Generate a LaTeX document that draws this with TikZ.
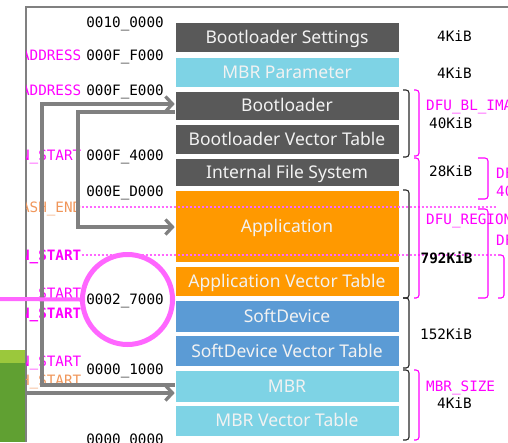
\documentclass[tikz,border=0pt]{standalone}
\usepackage{fontspec}
\setmainfont{Noto Sans}
\newfontfamily\monofont{DejaVu Sans Mono}
\usetikzlibrary{arrows.meta}
\definecolor{dgray}{RGB}{89,89,89}
\definecolor{lblue}{RGB}{126,211,229}
\definecolor{orangeb}{RGB}{255,153,0}
\definecolor{blueb}{RGB}{91,155,213}
\definecolor{boxtext}{RGB}{242,242,242}
\definecolor{framegray}{RGB}{128,128,128}
\definecolor{mag}{RGB}{255,0,255}
\definecolor{pinkl}{RGB}{255,102,255}
\definecolor{otext}{RGB}{240,150,90}
\definecolor{glight}{RGB}{155,200,60}
\definecolor{gdark}{RGB}{96,160,50}
\definecolor{brkblack}{RGB}{40,40,40}
\begin{document}
\begin{tikzpicture}[x=1pt,y=-1pt,
  box/.style={minimum width=224pt, inner sep=0pt, text=boxtext,
    font=\fontsize{17.5}{20}\selectfont, text height=12.5pt, text depth=0pt,
    draw=white, line width=0.6pt},
  addr/.style={font=\monofont\fontsize{14.3}{16}\selectfont, anchor=base east, inner sep=0pt, text=black},
  lbl/.style={font=\monofont\fontsize{14.3}{16}\selectfont, anchor=base east, inner sep=0pt, text=mag},
  rlbl/.style={font=\monofont\fontsize{14.3}{16}\selectfont, anchor=base west, inner sep=0pt, text=black},
  garrow/.style={draw=framegray, line width=3.3pt, -{Straight Barb[length=7pt,width=15pt]}},
  brk/.style={rounded corners=3pt, line width=1.1pt},
  dotl/.style={draw=pinkl, line width=1.3pt, dash pattern=on 2pt off 2pt}]
\useasboundingbox (0,0) rectangle (508,442);
\clip (0,0) rectangle (508,442);

% green block on the left
\fill[gdark] (0,350) rectangle (25,442);
\fill[glight] (0,350) rectangle (25,363);

% frame
\draw[framegray, line width=2.5pt] (26,442) -- (26,7) -- (508,7);

% memory boxes
\node[box, fill=dgray, minimum height=30.5pt] (bls) at (287,37.2) {Bootloader Settings};
\node[box, fill=lblue, minimum height=30pt] (mbrp) at (287,72.3) {MBR Parameter};
\node[box, fill=dgray, minimum height=28.7pt] (bl) at (287,105.7) {Bootloader};
\node[box, fill=dgray, minimum height=30pt] (blvt) at (287,139) {Bootloader Vector Table};
\node[box, fill=dgray, minimum height=28.7pt] (ifs) at (287,172.3) {Internal File System};
\node[box, fill=orangeb, minimum height=72pt] (app) at (287,226.7) {Application};
\node[box, fill=orangeb, minimum height=30.7pt] (appvt) at (287,281.3) {Application Vector Table};
\node[box, fill=blueb, minimum height=32pt] (sd) at (287,316) {SoftDevice};
\node[box, fill=blueb, minimum height=31.4pt] (sdvt) at (287,351) {SoftDevice Vector Table};
\node[box, fill=lblue, minimum height=32pt] (mbr) at (287,386) {MBR};
\node[box, fill=lblue, minimum height=30.7pt] (mbrvt) at (287,420.7) {MBR Vector Table};

% addresses
\node[addr] (a1) at (164,27.2) {0010\_0000};
\node[addr] (a2) at (164,60.2) {000F\_F000};
\node[addr] (a3) at (164,95.2) {000F\_E000};
\node[addr] (a4) at (164,160.2) {000F\_4000};
\node[addr] (a5) at (164,196) {000E\_D000};
\node[addr] (a6) at (164,304.2) {0002\_7000};
\node[addr] (a7) at (164,374.2) {0000\_1000};
\node[addr] (a8) at (164,444) {0000\_0000};

% left labels (partly hidden behind the frame)
\begin{scope}
\clip (26.5,0) rectangle (508,442);
\node[lbl] (l1) at (81.5,60.2) {ADDRESS};
\node[lbl] (l2) at (81.5,95.2) {ADDRESS};
\node[lbl] (l3) at (81.5,160.2) {N\_START};
\node[lbl, text=otext] (l4) at (81.5,212.2) {ASH\_END};
\node[lbl, font=\monofont\bfseries\fontsize{14.3}{16}\selectfont] (l5) at (81.5,260.2) {N\_START};
\node[lbl] (l6) at (81.5,298) {START};
\node[lbl, font=\monofont\bfseries\fontsize{14.3}{16}\selectfont] (l7) at (81.5,318.2) {N\_START};
\node[lbl] (l8) at (81.5,366.7) {N\_START};
\node[lbl, text=otext] (l9) at (81.5,385.5) {H\_START};
\end{scope}

% gray arrows
\draw[garrow] (mbr.west |- 0,385) -- (42,385) -- (42,104) -- (bl.west |- 0,104);
\draw[garrow] (bl.west |- 0,112) -- (78,112) -- (78,227) -- (app.west |- 0,227);
\coordinate (ext) at (26,393);
\draw[garrow] (ext) -- (mbr.west |- 0,393);

% dotted lines
\coordinate (d1) at (497,207);
\coordinate (d2) at (497,255);
\draw[dotl] (l4.east |- 0,207) -- (d1);
\draw[dotl] (l5.east |- 0,255) -- (d2);

% highlight ring and line
\node[draw=pinkl, line width=5pt, circle, minimum size=90pt, inner sep=0pt] (ring) at (127.5,299.5) {};
\coordinate (lin) at (0,299);
\draw[pinkl, line width=4pt] (lin) -- (ring.west);

% brackets
\draw[brk, brkblack] (403,90) -- (409,90) -- (409,157) -- (403,157);
\draw[brk, brkblack] (403,190) -- (409,190) -- (409,298) -- (403,298);
\draw[brk, brkblack] (403,298) -- (409,298) -- (409,368) -- (403,368);
\draw[brk, brkblack] (403,370) -- (409,370) -- (409,440) -- (403,440);
\draw[brk, mag] (414,90) -- (419,90) -- (419,156) -- (414,156);
\draw[brk, mag] (414,158) -- (419,158) -- (419,298) -- (414,298);
\draw[brk, mag] (478,158) -- (488,158) -- (488,199) -- (478,199);
\draw[brk, mag] (478,209) -- (488,209) -- (488,298) -- (478,298);
\draw[brk, mag] (498,255) -- (504,255) -- (504,298) -- (498,298);
\draw[brk, mag] (414,370) -- (419,370) -- (419,440) -- (414,440);

% right labels
\node[rlbl] (r1) at (437,41.7) {4KiB};
\node[rlbl] (r2) at (437,78.2) {4KiB};
\node[rlbl, text=mag] (r3) at (426,110.7) {DFU\_BL\_IMA};
\node[rlbl] (r4) at (429,128.5) {40KiB};
\node[rlbl] (r5) at (429,176.9) {28KiB};
\node[rlbl, text=mag] (r6) at (496,178.2) {DF};
\node[rlbl, text=mag] (r7) at (496,196.2) {40};
\node[rlbl, text=mag] (r8) at (426,224.2) {DFU\_REGION};
\node[rlbl, text=mag] (r9) at (496,245.2) {DF};
\node[rlbl, font=\monofont\bfseries\fontsize{14.3}{16}\selectfont] (r10) at (420.5,263.2) {792KiB};
\node[rlbl] (r11) at (420,339.2) {152KiB};
\node[rlbl, text=mag] (r12) at (426,391.9) {MBR\_SIZE};
\node[rlbl] (r13) at (437,408.2) {4KiB};
\end{tikzpicture}
\end{document}
